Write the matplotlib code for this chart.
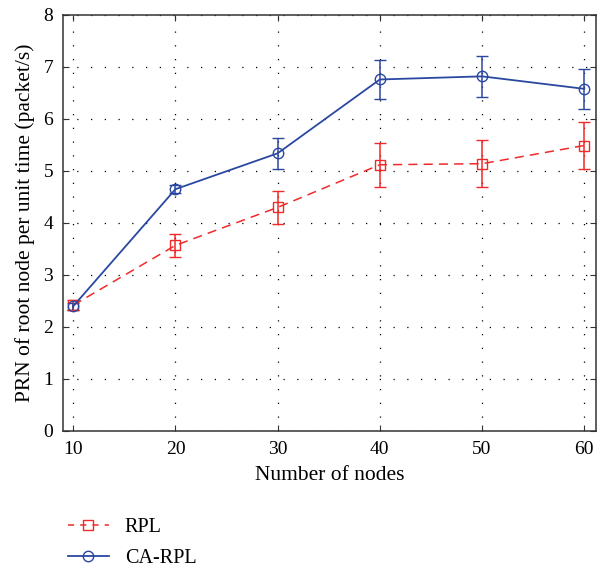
import matplotlib
matplotlib.use("Agg")
import matplotlib.pyplot as plt
from matplotlib.lines import Line2D

nodes = [10, 20, 30, 40, 50, 60]
rpl = [2.42, 3.57, 4.30, 5.12, 5.14, 5.49]
rpl_err = [0.10, 0.22, 0.31, 0.42, 0.45, 0.46]
carpl = [2.40, 4.65, 5.34, 6.76, 6.82, 6.58]
carpl_err = [0.07, 0.08, 0.30, 0.38, 0.40, 0.39]
yticks = [0, 1, 2, 3, 4, 5, 6, 7, 8]

plt.rcParams['font.family'] = ['Liberation Serif', 'DejaVu Serif']

red = '#f02a2a'
blue = '#2a48a0'

fig = plt.figure(figsize=(6.02, 5.68), dpi=100)
ax = fig.add_axes([0.1047, 0.2412, 0.8853, 0.7324])

ax.errorbar(nodes, rpl, yerr=rpl_err, color=red, linestyle=(0, (6, 4)), lw=1.1,
            marker='s', markersize=6.5, markerfacecolor='none', markeredgecolor=red,
            markeredgewidth=1.0, capsize=4, elinewidth=1.1, capthick=1.1)
ax.errorbar(nodes, carpl, yerr=carpl_err, color=blue, linestyle='-', lw=1.3,
            marker='o', markersize=7.5, markerfacecolor='none', markeredgecolor=blue,
            markeredgewidth=1.0, capsize=4, elinewidth=1.1, capthick=1.1)

ax.set_xlim(9.0, 61.15)
ax.set_ylim(0, 8)
ax.set_xticks(nodes)
ax.set_yticks(yticks)
ax.grid(True, color='black', linestyle=(0, (1, 10)), linewidth=0.9)
ax.tick_params(direction='in', labelsize=14, top=True, right=True, length=4,
               color='#333333', pad=7)
for s in ax.spines.values():
    s.set_linewidth(1.1)
    s.set_color('#333333')
ax.set_xlabel('Number of nodes', fontsize=15.5, labelpad=6)
ax.set_ylabel('PRN of root node per unit time (packet/s)', fontsize=15.5, labelpad=6)

handles = [
    Line2D([], [], color=red, linestyle=(0, (4, 4)), lw=1.1, marker='s', markersize=6.5,
           markerfacecolor='none', markeredgecolor=red),
    Line2D([], [], color=blue, linestyle='-', lw=1.3, marker='o', markersize=7.5,
           markerfacecolor='none', markeredgecolor=blue),
]
fig.legend(handles, ['RPL', 'CA-RPL'], loc='upper left', bbox_to_anchor=(0.1, 0.102),
           bbox_transform=fig.transFigure, frameon=False, fontsize=14.5,
           handlelength=2.0, labelspacing=0.6, borderaxespad=0, handletextpad=0.8)

fig.savefig('out.png', dpi=100)
